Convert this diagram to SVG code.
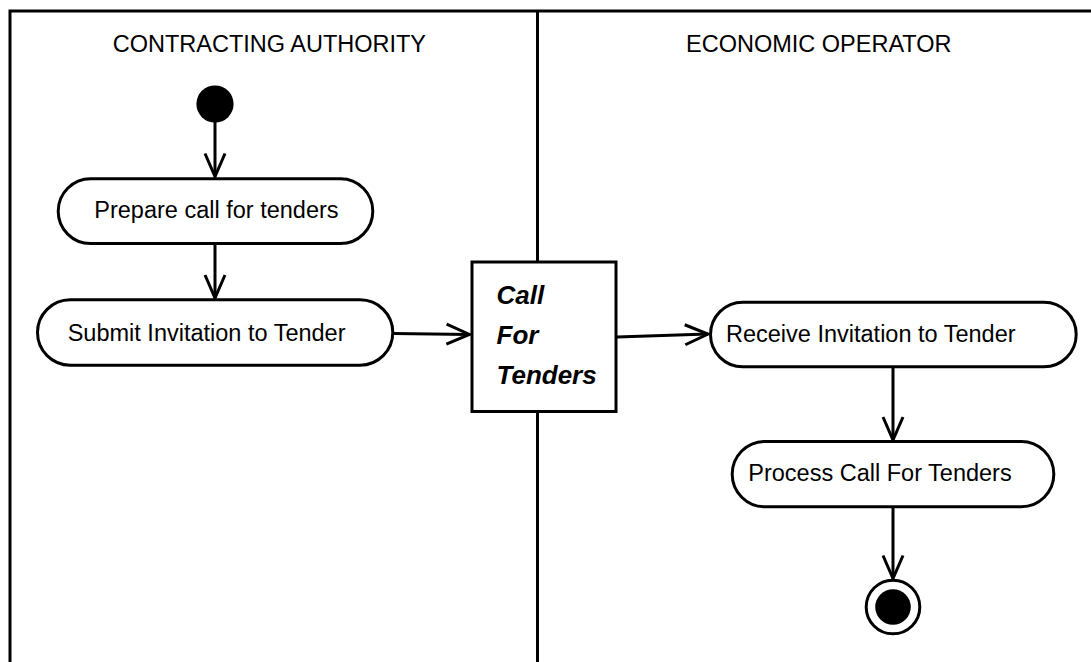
<svg xmlns="http://www.w3.org/2000/svg" width="1091" height="662" viewBox="0 0 1091 662">
<style>
.frame{stroke:#000;stroke-width:3;fill:none}
.pill{fill:#fff;stroke:#000;stroke-width:3}
.lbl{font-family:"Liberation Sans",Arial,sans-serif;font-size:23.5px;fill:#000}
.obj{font-family:"Liberation Sans",Arial,sans-serif;font-size:26px;font-weight:bold;font-style:italic;fill:#000}
.edge{stroke:#000;stroke-width:3;fill:none}
</style>
<defs>
<marker id="arr" viewBox="-25 -12 27 24" refX="0" refY="0" markerWidth="27" markerHeight="24" markerUnits="userSpaceOnUse" orient="auto">
<path d="M-23,-10 L0,0 L-23,10" fill="none" stroke="#000" stroke-width="3"/>
</marker>
</defs>
<rect width="1091" height="662" fill="#fff"/>
<g id="swimlanes">
<path class="frame" d="M10,662 V11 H1091"/>
<line class="frame" x1="537.5" y1="11" x2="537.5" y2="662"/>
<text class="lbl" x="112.7" y="52.3">CONTRACTING AUTHORITY</text>
<text class="lbl" x="686" y="52.3">ECONOMIC OPERATOR</text>
</g>
<g id="connectors">
<line class="edge" x1="215" y1="122" x2="215" y2="176.5" marker-end="url(#arr)"/>
<line class="edge" x1="215" y1="245" x2="215" y2="298" marker-end="url(#arr)"/>
<line class="edge" x1="394" y1="333.5" x2="469.5" y2="334.5" marker-end="url(#arr)"/>
<line class="edge" x1="617" y1="337" x2="708" y2="334" marker-end="url(#arr)"/>
<line class="edge" x1="893" y1="368" x2="893" y2="440" marker-end="url(#arr)"/>
<line class="edge" x1="893" y1="508" x2="893" y2="578.5" marker-end="url(#arr)"/>
</g>
<g id="start">
<circle cx="215" cy="104" r="18.6" fill="#000"/>
</g>
<g id="prepare">
<rect class="pill" x="58.2" y="178.8" width="314.6" height="64.8" rx="32.4"/>
<text class="lbl" x="94.3" y="217.7">Prepare call for tenders</text>
</g>
<g id="submit">
<rect class="pill" x="37.5" y="299.8" width="355.3" height="65.4" rx="32.7"/>
<text class="lbl" x="67.7" y="340.7">Submit Invitation to Tender</text>
</g>
<g id="callForTenders">
<rect class="pill" x="472" y="262" width="144" height="149.5"/>
<text class="obj" x="496.5" y="304">Call</text>
<text class="obj" x="496.5" y="344">For</text>
<text class="obj" x="496.5" y="384">Tenders</text>
</g>
<g id="receive">
<rect class="pill" x="710.5" y="302.2" width="365.7" height="64.6" rx="32.3"/>
<text class="lbl" x="726" y="341.7">Receive Invitation to Tender</text>
</g>
<g id="process">
<rect class="pill" x="732.2" y="441.5" width="321.6" height="65.3" rx="32.6"/>
<text class="lbl" x="748.3" y="481">Process Call For Tenders</text>
</g>
<g id="end">
<circle cx="893" cy="607" r="26.8" fill="#fff" stroke="#000" stroke-width="3"/>
<circle cx="893" cy="607" r="17.8" fill="#000"/>
</g>
</svg>
